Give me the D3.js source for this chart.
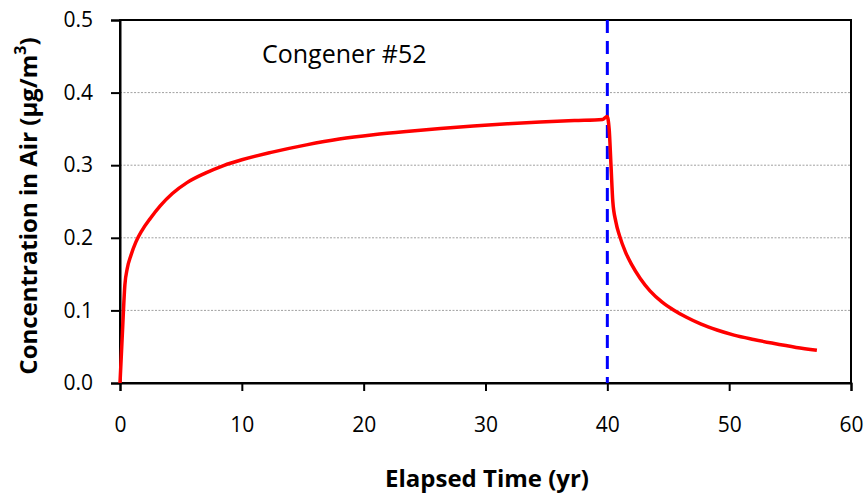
<!DOCTYPE html>
<html><head><meta charset="utf-8">
<script src="https://cdn.jsdelivr.net/npm/d3@7/dist/d3.min.js"></script>
<style>body{margin:0;background:#fff}svg{display:block}</style>
</head><body>
<script>
const years = [0, 0.2, 0.4, 0.6, 0.9, 1.3, 1.8, 2.5, 3.3, 4.3, 5.5, 7, 8.5, 10, 12.5, 15.3, 18, 20.8, 23.5, 26.3, 29, 31.8, 34.5, 37.3, 39.6, 39.98,
  40.15, 40.3, 40.45, 40.7, 41.0, 41.5, 42.0, 42.7, 43.5, 44.5, 45.5, 46.5, 47.7, 49, 50.4, 52, 53.5, 55.5, 57.2];
const concentration = [0, 0.07, 0.135, 0.158, 0.176, 0.194, 0.21, 0.227, 0.244, 0.261, 0.276, 0.289, 0.2995, 0.3075, 0.318, 0.328, 0.336, 0.342, 0.3465, 0.3505, 0.354, 0.357, 0.3595, 0.3615, 0.363, 0.367,
  0.35, 0.30, 0.25, 0.222, 0.203, 0.180, 0.163, 0.144, 0.127, 0.1115, 0.100, 0.0905, 0.081, 0.073, 0.066, 0.060, 0.055, 0.049, 0.045];
const xTicks = [0, 10, 20, 30, 40, 50, 60];
const yTicks = [0.0, 0.1, 0.2, 0.3, 0.4, 0.5];
const cutoffYear = [40];
const label = "Congener #52";

const W = 867, H = 495;
const svg = d3.select("body").append("svg").attr("width", W).attr("height", H);
const x = d3.scaleLinear().domain([0, 60]).range([120, 851]);
const y = d3.scaleLinear().domain([0, 0.5]).range([383, 20]);
const font = "'Open Sans', 'Liberation Sans', sans-serif";

// gridlines
svg.append("g").selectAll("line").data(yTicks.filter(d => d > 0 && d < 0.5)).join("line")
  .attr("x1", x(0)).attr("x2", x(60)).attr("y1", d => y(d)).attr("y2", d => y(d))
  .attr("stroke", "#a0a0a0").attr("stroke-width", 1).attr("stroke-dasharray", "2,1.5");

// box
svg.append("rect").attr("x", x(0)).attr("y", y(0.5)).attr("width", x(60) - x(0)).attr("height", y(0) - y(0.5))
  .attr("fill", "none").attr("stroke", "#000").attr("stroke-width", 2);

// axes
const xAxis = svg.append("g").attr("transform", `translate(0,${y(0)})`)
  .call(d3.axisBottom(x).tickValues(xTicks).tickFormat(d3.format("d")).tickSize(8).tickPadding(26));
const yAxis = svg.append("g").attr("transform", `translate(${x(0)},0)`)
  .call(d3.axisLeft(y).tickValues(yTicks).tickFormat(d3.format(".1f")).tickSize(9).tickPadding(18));
[xAxis, yAxis].forEach(g => {
  g.select(".domain").attr("stroke", "#000").attr("stroke-width", 2);
  g.selectAll(".tick line").attr("stroke", "#000").attr("stroke-width", 2);
  g.selectAll(".tick text").attr("font-family", font).attr("font-size", 21).attr("fill", "#000");
});

// cutoff line
svg.append("g").selectAll("line").data(cutoffYear).join("line")
  .attr("x1", d => x(d)).attr("x2", d => x(d)).attr("y1", y(0.5)).attr("y2", y(0))
  .attr("stroke", "#0000ff").attr("stroke-width", 3).attr("stroke-dasharray", "13,8");

// curve
const pts = years.map((t, i) => [t, concentration[i]]);
svg.append("path").datum(pts)
  .attr("d", d3.line().x(d => x(d[0])).y(d => y(d[1])).curve(d3.curveMonotoneX))
  .attr("fill", "none").attr("stroke", "#ff0000").attr("stroke-width", 3.5).attr("stroke-linejoin", "round");

// label
svg.append("text").attr("x", 262).attr("y", 63).attr("font-family", font).attr("font-size", 25)
  .attr("fill", "#000").text(label);

// axis titles
svg.append("text").attr("x", 487).attr("y", 487).attr("text-anchor", "middle")
  .attr("font-family", font).attr("font-size", 24).attr("font-weight", "bold").text("Elapsed Time (yr)");
const yt = svg.append("text").attr("transform", "translate(37,206) rotate(-90)").attr("text-anchor", "middle")
  .attr("font-family", font).attr("font-size", 24).attr("font-weight", "bold");
yt.append("tspan").text("Concentration in Air (µg/m");
yt.append("tspan").attr("baseline-shift", "super").attr("font-size", 16).text("3");
yt.append("tspan").text(")");
</script>
</body></html>
